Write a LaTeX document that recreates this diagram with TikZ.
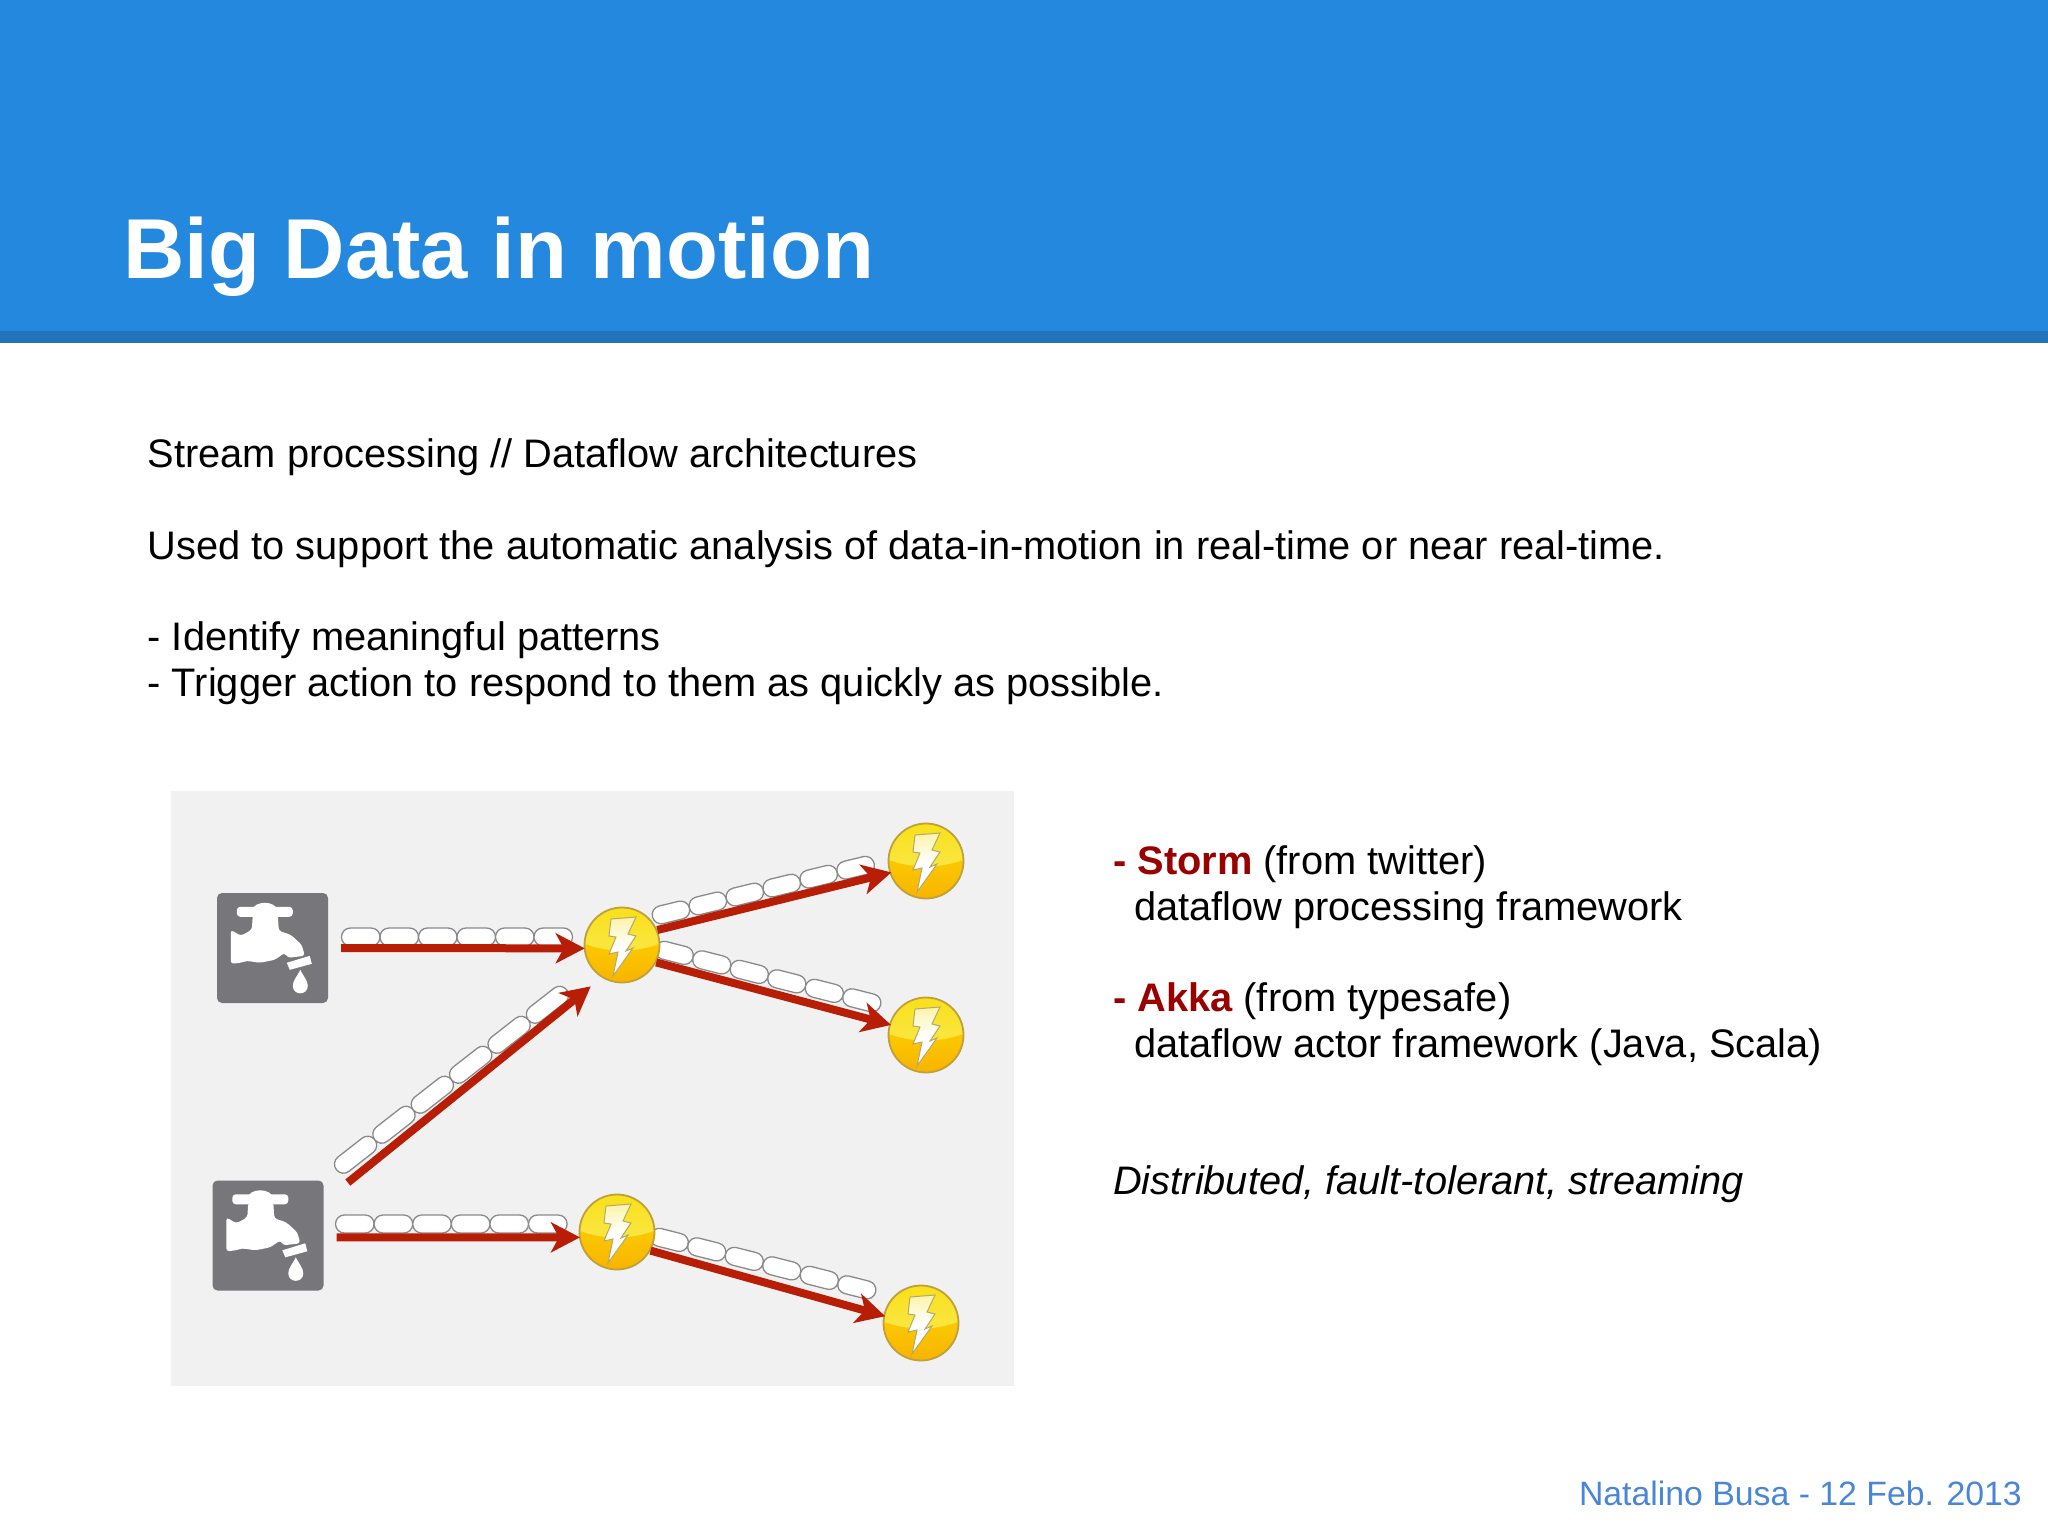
\documentclass[tikz,border=0pt]{standalone}
\usepackage{fontspec}
\setmainfont{Liberation Sans}
\usetikzlibrary{arrows.meta}
\definecolor{hdr}{HTML}{2488DE}
\definecolor{hdrdark}{HTML}{2273BC}
\definecolor{panelbg}{HTML}{F1F1F2}
\definecolor{flow}{HTML}{B81E05}
\definecolor{stonegray}{HTML}{8A8A8A}
\definecolor{tapgray}{HTML}{77767B}
\definecolor{boltrim}{HTML}{C0A03A}
\definecolor{boltline}{HTML}{B5A868}
\definecolor{accent}{HTML}{990000}
\definecolor{foot}{HTML}{4A86D8}
\definecolor{glA}{HTML}{F8B400}
\definecolor{glB}{HTML}{FFDC00}
\definecolor{glC}{HTML}{FBEA60}
\definecolor{glD}{HTML}{F9E018}
\definecolor{glE}{HTML}{FBF3A8}
\newcommand{\tapicon}[1]{%
  \begin{scope}[shift={(#1.north west)}]
    \fill[white,rounded corners=3pt] (14,37)--(24,43)--(35,37)--(36,22)--(61,22)--(62,38)--(74,42)--(85,52)--(88,63)--(71,65)--(68,60)--(58,67)--(43,70)--(30,68)--(24,70)--(14,71)--cycle;
    \fill[white,rounded corners=3.5pt] (20,14) rectangle (76,24);
    \fill[white] (48,17) ellipse [x radius=12pt,y radius=7pt];
    \fill[white] (70,70)--(93,63)--(95,71)--(73,77)--cycle;
    \fill[white] (83.5,77) .. controls (80,84) and (76,88) .. (76,93) .. controls (76,103) and (91,103) .. (91,93) .. controls (91,88) and (87,84) .. (83.5,77);
  \end{scope}}
\newcommand{\bolticon}{%
    \shade[top color=glD,bottom color=glC] (-39,-39) -- (39,-39) -- (39,-2) .. controls (15,8) and (-15,8) .. (-39,-2) -- cycle;
    \draw[draw=boltline,line width=1pt,top color=glE,bottom color=white,middle color=white] (-11,-26)--(14,-28)--(6,-11)--(14,-9)--(4,6)--(11,3)--(-9,31)--(-4,7)--(-13,9)--(-6,-8)--(-13,-9)--cycle;}
\newcommand{\stones}[4]{% x, y, angle, pitch
  \begin{scope}[shift={(#1,#2)},rotate=#3]
    \foreach \k in {0,...,5}{
      \draw[stonegray,line width=1.3pt,fill=white,rounded corners=8.9pt]
        ({\k*#4+0.5},-9) rectangle ({(\k+1)*#4+0.5},9);
    }
  \end{scope}}
\tikzset{
  x=1pt,y=-1pt,
  body/.style={anchor=base west,inner sep=0pt,font=\fontsize{39.8}{46}\selectfont,text=black},
  tapbox/.style={rectangle,rounded corners=5pt,fill=tapgray,minimum width=111pt,minimum height=110pt,inner sep=0pt},
  boltball/.style={circle,minimum size=75pt,inner sep=0pt,draw=boltrim,line width=1.8pt,top color=glB,bottom color=glA,path picture={\bolticon}},
  flowline/.style={draw=flow,line width=8pt,-{Stealth[length=29pt,width=30pt,inset=8pt]}},
}
\begin{document}
\begin{tikzpicture}
\useasboundingbox (0,0) rectangle (2048,1536);
\fill[white] (0,0) rectangle (2048,1536);
\fill[hdr] (0,0) rectangle (2048,331);
\fill[hdrdark] (0,331) rectangle (2048,343);
\node[anchor=base west,inner sep=0pt,font=\fontsize{85}{98}\bfseries\selectfont,text=white] (title) at (123,278) {Big Data in motion};
\node[body] (l1) at (147.5,467) {Stream processing // Dataflow architectures};
\node[body] (l2) at (147.5,559) {Used to support the automatic analysis of data-in-motion in real-time or near real-time.};
\node[body] (l3) at (147.5,650) {- Identify meaningful patterns};
\node[body] (l4) at (147.5,696) {- Trigger action to respond to them as quickly as possible.};
\node[body] (r1) at (1113,874) {\textcolor{accent}{\bfseries - Storm} (from twitter)};
\node[body] (r2) at (1134,920) {dataflow processing framework};
\node[body] (r3) at (1113,1011) {\textcolor{accent}{\bfseries - Akka} (from typesafe)};
\node[body] (r4) at (1134,1057) {dataflow actor framework (Java, Scala)};
\node[body] (r5) at (1113,1194) {\itshape Distributed, fault-tolerant, streaming};
\node[anchor=base east,inner sep=0pt,font=\fontsize{33.8}{40}\selectfont,text=foot] (footer) at (2022,1505) {Natalino Busa - 12 Feb. 2013};
% panel
\fill[panelbg] (171,791) rectangle (1014,1386);
% stones
\stones{341}{937}{0}{38.5}
\stones{336}{1170}{38}{48.7}
\stones{652}{917}{13.6}{38}
\stones{655}{948}{-14.2}{38.7}
\stones{335}{1224}{0}{38.6}
\stones{650}{1235}{-14.2}{38.7}
% nodes
\node[tapbox] (t1) at (272.5,948) {};
\tapicon{t1}
\node[tapbox] (t2) at (268,1235.5) {};
\tapicon{t2}
\node[boltball] (c1) at (622,945) {};
\node[boltball] (c2) at (926,861) {};
\node[boltball] (c3) at (926,1035) {};
\node[boltball] (c4) at (617,1232) {};
\node[boltball] (c5) at (921,1323) {};
% connectors
\draw[flowline,shorten <=13pt,shorten >=-1pt] (t1.east) -- (c1.185);
\draw[flowline,shorten <=31pt,shorten >=14pt] (t2.31) -- (c1.238);
\draw[flowline,shorten >=-2pt] (c1.23) -- (c2.198);
\draw[flowline,shorten >=-2pt] (c1.-27) -- (c3.164);
\draw[flowline,shorten <=13pt,shorten >=-1pt] (t2.-2) -- (c4.188);
\draw[flowline,shorten >=-2pt] (c4.-29) -- (c5.169);
\end{tikzpicture}
\end{document}
